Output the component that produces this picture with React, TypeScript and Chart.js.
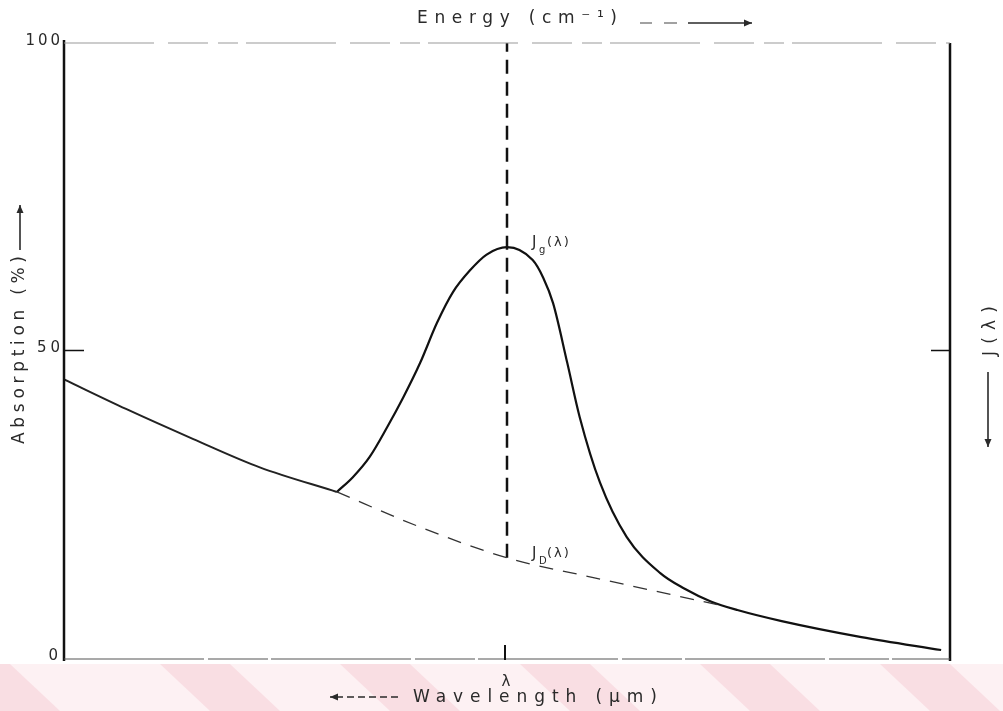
import React, { useEffect, useRef } from "react";
import { Chart, registerables } from "chart.js";

Chart.register(...registerables);

// ---- data (x: arbitrary wavelength units 0..100, y: absorption %) ----
const baseLeftX = [0, 7, 14.6, 22.1, 30.8];
const baseLeftY = [45.3, 40.5, 35.6, 31.0, 27.0];

const baseDashX = [30.8, 40, 50, 60, 74];
const baseDashY = [27.0, 21.4, 16.3, 13.0, 8.6];

const peakX = [30.8, 32.6, 34.5, 36.5, 38.3, 40.2, 42.1, 43.9, 45.8, 47.7, 50, 52.9, 54.1, 55.2, 56.8, 58.2, 60.5, 63.5, 67.3, 70, 73, 76, 81, 90, 99];
const peakY = [27.0, 29.4, 32.7, 37.6, 42.4, 48.0, 54.5, 59.5, 63.0, 65.6, 66.8, 64.7, 61.8, 57.7, 48.0, 39.2, 28.5, 19.7, 13.8, 11.3, 9.2, 7.8, 6.0, 3.4, 1.3];

const lambdaX = [50, 50];
const lambdaY = [16.3, 100];

const yTickValues = [0, 50, 100];
const yTickLabels = ["0", "50", "100"];
const xTickValues = [50];
const xTickLabels = ["λ"];

const yTitle = "Absorption (%)";
const xTitle = "Wavelength (μm)";
const topTitle = "Energy (cm⁻¹)";
const rightTitle = "J(λ)";
const peakLabel = ["J", "g", "(λ)"];
const baseLabel = ["J", "D", "(λ)"];

const pts = (xs: number[], ys: number[]) => xs.map((x, i) => ({ x, y: ys[i] }));

const FONT = "'DejaVu Sans', sans-serif";
const INK = "#2a2a2a";

function fitText(ctx: CanvasRenderingContext2D, text: string, cx: number, cy: number, width: number, size: number, rot = 0) {
  ctx.save();
  ctx.font = `${size}px ${FONT}`;
  ctx.fillStyle = INK;
  (ctx as any).letterSpacing = "0px";
  const w = ctx.measureText(text).width;
  const n = Array.from(text).length;
  const ls = n > 1 ? Math.max(0, (width - w) / (n - 1)) : 0;
  (ctx as any).letterSpacing = `${ls}px`;
  ctx.translate(cx, cy);
  ctx.rotate(rot);
  ctx.textAlign = "left";
  ctx.textBaseline = "middle";
  ctx.fillText(text, -width / 2, 0);
  ctx.restore();
}

function arrow(ctx: CanvasRenderingContext2D, x1: number, y1: number, x2: number, y2: number, dash: number[] = []) {
  ctx.save();
  ctx.strokeStyle = INK;
  ctx.fillStyle = INK;
  ctx.lineWidth = 1.6;
  ctx.setLineDash(dash);
  ctx.beginPath();
  ctx.moveTo(x1, y1);
  ctx.lineTo(x2, y2);
  ctx.stroke();
  ctx.setLineDash([]);
  const a = Math.atan2(y2 - y1, x2 - x1);
  const L = 8, W = 3.5;
  ctx.beginPath();
  ctx.moveTo(x2, y2);
  ctx.lineTo(x2 - L * Math.cos(a) + W * Math.sin(a), y2 - L * Math.sin(a) - W * Math.cos(a));
  ctx.lineTo(x2 - L * Math.cos(a) - W * Math.sin(a), y2 - L * Math.sin(a) + W * Math.cos(a));
  ctx.closePath();
  ctx.fill();
  ctx.restore();
}

const decorPlugin = {
  id: "decor",
  beforeDraw(chart: any) {
    const ctx: CanvasRenderingContext2D = chart.ctx;
    ctx.save();
    ctx.fillStyle = "#ffffff";
    ctx.fillRect(0, 0, chart.width, chart.height);
    // faint watermark band at the bottom
    ctx.fillStyle = "rgba(248, 215, 221, 0.35)";
    ctx.fillRect(0, 664, chart.width, chart.height - 664);
    ctx.fillStyle = "rgba(242, 180, 192, 0.3)";
    const starts = [-60, 160, 340, 520, 700, 880];
    starts.forEach((x0) => {
      ctx.beginPath();
      ctx.moveTo(x0, 664);
      ctx.lineTo(x0 + 70, 664);
      ctx.lineTo(x0 + 120, 711);
      ctx.lineTo(x0 + 50, 711);
      ctx.closePath();
      ctx.fill();
    });
    ctx.restore();
  },
  afterDatasetsDraw(chart: any) {
    const ctx: CanvasRenderingContext2D = chart.ctx;
    const xs = chart.scales.x;
    const ys = chart.scales.y;
    const { left, right, top, bottom } = chart.chartArea;
    ctx.save();
    // frame
    ctx.strokeStyle = "#111";
    ctx.lineWidth = 2.5;
    ctx.beginPath();
    ctx.moveTo(left, top - 3);
    ctx.lineTo(left, bottom + 3);
    ctx.moveTo(right, top);
    ctx.lineTo(right, bottom + 3);
    ctx.stroke();
    ctx.strokeStyle = "#555";
    ctx.lineWidth = 1.2;
    ctx.setLineDash([140, 4, 60, 3]);
    ctx.beginPath();
    ctx.moveTo(left, bottom + 1);
    ctx.lineTo(right, bottom + 1);
    ctx.stroke();
    ctx.strokeStyle = "#999";
    ctx.lineWidth = 1;
    ctx.setLineDash([90, 14, 40, 10, 20, 8]);
    ctx.beginPath();
    ctx.moveTo(left, top);
    ctx.lineTo(right, top);
    ctx.stroke();
    ctx.setLineDash([]);

    // y ticks (inside) and labels
    ctx.strokeStyle = "#111";
    ctx.lineWidth = 1.5;
    yTickValues.forEach((v, i) => {
      const py = ys.getPixelForValue(v);
      if (v !== 0 && v !== 100) {
        ctx.beginPath();
        ctx.moveTo(left, py);
        ctx.lineTo(left + 20, py);
        ctx.moveTo(right - 19, py);
        ctx.lineTo(right, py);
        ctx.stroke();
      }
      const lab = yTickLabels[i];
      const w = lab.length * 11.5;
      fitText(ctx, lab, left - 4 - w / 2, py - 2, w, 15);
    });

    // x ticks and labels
    xTickValues.forEach((v, i) => {
      const px = xs.getPixelForValue(v);
      ctx.lineWidth = 2;
      ctx.beginPath();
      ctx.moveTo(px - 2, bottom - 13);
      ctx.lineTo(px - 2, bottom + 2);
      ctx.stroke();
      fitText(ctx, xTickLabels[i], px - 1, bottom + 24, 9, 15);
    });

    // axis titles
    fitText(ctx, yTitle, 20, 350, 188, 17, -Math.PI / 2);
    arrow(ctx, 20, 250, 20, 205);

    fitText(ctx, topTitle, 517, 19, 200, 17);
    ctx.strokeStyle = "#444";
    ctx.lineWidth = 1.2;
    ctx.beginPath();
    ctx.moveTo(640, 23); ctx.lineTo(652, 23);
    ctx.moveTo(664, 23); ctx.lineTo(677, 23);
    ctx.stroke();
    arrow(ctx, 688, 23, 752, 23);

    fitText(ctx, xTitle, 535, 698, 244, 17);
    arrow(ctx, 398, 697, 330, 697, [7, 4]);

    fitText(ctx, rightTitle, 991, 331, 50, 17, -Math.PI / 2);
    arrow(ctx, 988, 372, 988, 447);

    // curve labels
    const drawJ = (lab: string[], ax: number, ay: number) => {
      const bx = xs.getPixelForValue(ax) + 25;
      const by = ys.getPixelForValue(ay);
      ctx.save();
      ctx.fillStyle = INK;
      ctx.textAlign = "left";
      ctx.textBaseline = "alphabetic";
      ctx.font = `15px ${FONT}`;
      ctx.fillText(lab[0], bx, by);
      ctx.font = `10px ${FONT}`;
      ctx.fillText(lab[1], bx + 7, by + 6);
      ctx.font = `13px ${FONT}`;
      (ctx as any).letterSpacing = "2px";
      ctx.fillText(lab[2], bx + 15, by - 1);
      ctx.restore();
    };
    drawJ(peakLabel, peakX[10], peakY[10]);
    drawJ(baseLabel, baseDashX[2], baseDashY[2]);
    ctx.restore();
  },
};

export default function App() {
  const ref = useRef<HTMLCanvasElement | null>(null);
  useEffect(() => {
    document.body.style.margin = "0";
    const canvas = ref.current!;
    const chart = new Chart(canvas, {
      type: "scatter",
      data: {
        datasets: [
          {
            label: "background (measured)",
            data: pts(baseLeftX, baseLeftY),
            showLine: true,
            borderColor: "#222",
            borderWidth: 2,
            pointRadius: 0,
            cubicInterpolationMode: "monotone",
          },
          {
            label: "background (under band)",
            data: pts(baseDashX, baseDashY),
            showLine: true,
            borderColor: "#333",
            borderWidth: 1.3,
            borderDash: [14, 10],
            pointRadius: 0,
            cubicInterpolationMode: "monotone",
          },
          {
            label: "absorption band",
            data: pts(peakX, peakY),
            showLine: true,
            borderColor: "#111",
            borderWidth: 2.2,
            pointRadius: 0,
            cubicInterpolationMode: "monotone",
          },
          {
            label: "λ",
            data: pts(lambdaX, lambdaY),
            showLine: true,
            borderColor: "#111",
            borderWidth: 2.5,
            borderDash: [14, 8],
            pointRadius: 0,
          },
        ],
      } as any,
      options: {
        animation: false,
        responsive: false,
        devicePixelRatio: 1,
        layout: { padding: { left: 64, top: 43, right: 53, bottom: 53 } },
        plugins: { legend: { display: false }, tooltip: { enabled: false } },
        scales: {
          x: { type: "linear", min: 0, max: 100, display: false },
          y: { type: "linear", min: 0, max: 100, display: false },
        },
      } as any,
      plugins: [decorPlugin],
    });
    return () => chart.destroy();
  }, []);
  return (
    <div style={{ position: "fixed", left: 0, top: 0, width: 1003, height: 711 }}>
      <canvas ref={ref} width={1003} height={711} style={{ width: 1003, height: 711, display: "block" }} />
    </div>
  );
}
